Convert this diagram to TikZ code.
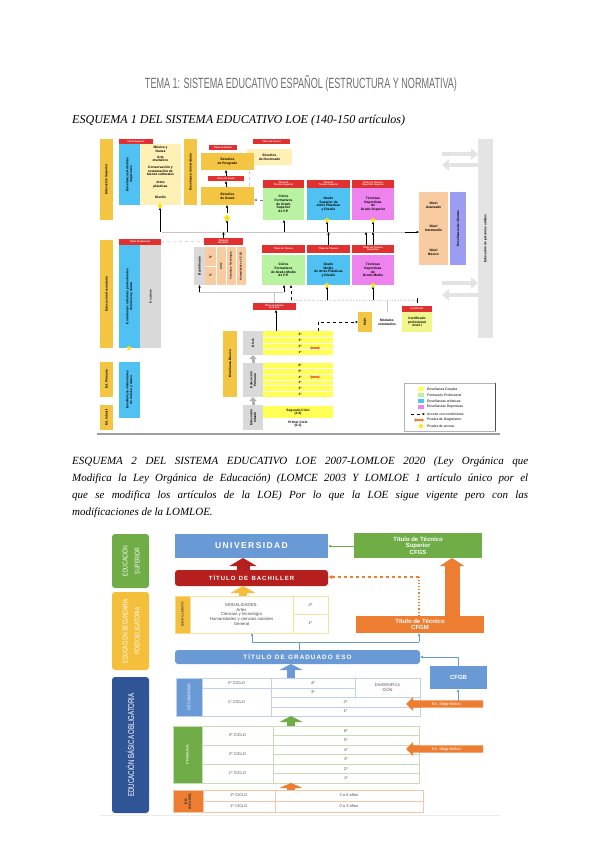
\documentclass[tikz,border=0pt]{standalone}
\usepackage{graphicx}
\usepackage{fontspec}
\setmainfont{Liberation Serif}
\newfontfamily\sansf{Liberation Sans}
\usetikzlibrary{shapes.geometric,shapes.arrows,arrows.meta}
\definecolor{titlegray}{HTML}{6F6F6F}
\definecolor{ybar}{HTML}{F4C542}
\definecolor{redl}{HTML}{E03030}
\definecolor{skyb}{HTML}{4FC1F2}
\definecolor{lyel}{HTML}{FFF1B5}
\definecolor{gry}{HTML}{D9D9D9}
\definecolor{lgreen}{HTML}{B9F2A1}
\definecolor{magen}{HTML}{EE82EE}
\definecolor{peach}{HTML}{F8CBA0}
\definecolor{lav}{HTML}{9C9CF2}
\definecolor{byel}{HTML}{FFFF55}
\definecolor{certy}{HTML}{F0F58C}
\definecolor{eblue}{HTML}{6A9AD6}
\definecolor{ered}{HTML}{B5201F}
\definecolor{egreen}{HTML}{70AD47}
\definecolor{eorange}{HTML}{ED7D31}
\definecolor{egold}{HTML}{F4C03C}
\definecolor{edblue}{HTML}{2F5597}
\newcommand\bx[7]{%
 \pgfmathsetmacro\bxw{#4-#2}\pgfmathsetmacro\bxh{#5-#3}%
 \node[anchor=north west,inner sep=0pt,outer sep=0pt,align=center,minimum width=\bxw pt,minimum height=\bxh pt,#6] (#1) at (#2,#3) {#7};}
\begin{document}
\begin{tikzpicture}[x=1pt,y=-1pt,
 fa/.style={font=\sansf\bfseries\fontsize{3.3}{3.7}\selectfont,align=center},
 lab/.style={fill=redl,text=white,font=\sansf\bfseries\fontsize{2.4}{2.7}\selectfont},
 rot/.style={rotate=90,inner sep=0pt,align=center},
 rf/.style={font=\sansf\bfseries\fontsize{3.2}{3.7}\selectfont},
 sarr/.style={-{Latex[length=2.5pt,width=2.5pt]},line width=0.6pt,black},
 gline/.style={line width=0.6pt,gray!45},
 acc/.style={dashed,line width=0.5pt,-{Latex[length=2.5pt,width=2.5pt]}},
 gbig/.style={line width=4pt,gray!22,-{Triangle[length=7pt,width=11pt]}},
 gup/.style={line width=3pt,gray!60,-{Triangle[length=4pt,width=7pt]}},
 starst/.style={star,star points=5,star point ratio=2.2,fill=yellow!85!orange,draw=none,minimum size=8pt,inner sep=0pt},
 num/.style={font=\sansf\bfseries\fontsize{3.2}{3.5}\selectfont,inner sep=0pt},
 legt/.style={anchor=west,inner sep=0pt,font=\sansf\fontsize{3.4}{3.6}\selectfont},
 wt/.style={text=white,font=\sansf\bfseries},
 bartxt/.style={rotate=90,inner sep=0pt,align=center,text=white,font=\sansf\fontsize{7}{8}\selectfont},
 cellb/.style={draw=eblue!45,fill=white,text=black!70,font=\sansf\fontsize{4}{4.6}\selectfont},
 cellg/.style={draw=egreen!40,fill=white,text=black!70,font=\sansf\fontsize{4}{4.6}\selectfont},
 cello/.style={draw=eorange!45,fill=white,text=black!70,font=\sansf\fontsize{4}{4.6}\selectfont},
 celly/.style={draw=egold!50,fill=white,text=black!70,font=\sansf\fontsize{4}{4.6}\selectfont},
 bl/.style={line width=1pt,eblue}]
\useasboundingbox[fill=white] (0,0) rectangle (600,848);

% ---------- headings ----------
\node[inner sep=0pt,text=titlegray] (title) at (301,84) {\resizebox{312pt}{13pt}{\sansf TEMA 1: SISTEMA EDUCATIVO ESPAÑOL (ESTRUCTURA Y NORMATIVA)}};
\node[anchor=west,inner sep=0pt] (h1) at (72,121) {\resizebox{333pt}{!}{\itshape ESQUEMA 1 DEL SISTEMA EDUCATIVO LOE (140-150 artículos)}};
\node[anchor=north west,inner sep=0pt,text width=456pt,align=justify,font=\itshape\fontsize{11}{17}\selectfont] (p2) at (72,457)
 {ESQUEMA 2 DEL SISTEMA EDUCATIVO LOE 2007-LOMLOE 2020 (Ley Orgánica que\linebreak Modifica la Ley Orgánica de Educación) (LOMCE 2003 Y LOMLOE 1 artículo único por el\linebreak que se modifica los artículos de la LOE) Por lo que la LOE sigue vigente pero con las\linebreak modificaciones de la LOMLOE.};

% ================= ESQUEMA 1 =================
\coordinate (h232) at (0,232);
\coordinate (h292) at (0,292);
\coordinate (h300) at (0,300);
% top left
\bx{supbar}{100}{139}{113}{220}{fill=ybar}{}
\node[rot,rf] (supbar-t) at (supbar) {Educación Superior};
\bx{lts}{119}{139}{153}{144}{lab}{Título Superior}
\bx{asup}{119}{144}{140}{205}{fill=skyb}{}
\node[rot,rf] (asup-t) at (asup) {Enseñanzas Artísticas\\Superiores};
\bx{alist}{140}{144}{181}{205}{fill=lyel}{}
\node[fa] (al1) at (160.5,149) {Música y\\Danza};
\node[fa] (al2) at (160.5,159) {Arte\\dramático};
\node[fa] (al3) at (160.5,171) {Conservación y\\restauración de\\bienes culturales};
\node[fa] (al4) at (160.5,185) {Artes\\plásticas};
\node[fa] (al5) at (160.5,197) {Diseño};
\node[starst,minimum size=6pt] (st0) at (160,206) {};
\bx{ubar}{184}{139}{197}{205}{fill=ybar}{}
\node[rot,rf] (ubar-t) at (ubar) {Enseñanza Universitaria};
\bx{doct}{247}{149}{292}{165}{fill=lyel,fa}{Estudios\\de Doctorado}
\bx{ldoc}{253}{139}{290}{144}{lab}{Título de Doctor}
\bx{posg}{201}{153}{254}{170}{fill=ybar,fa}{Estudios\\de Posgrado}
\bx{lmas}{209}{145}{237}{150}{lab}{Título de Máster}
\bx{lgra}{208}{176}{244}{181}{lab}{Título de Grado}
\bx{grado}{201}{187}{254}{205}{fill=ybar,fa}{Estudios\\de Grado}
\draw[sarr] (grado.north -| lgra.south) -- (lgra.south);
\draw[sarr] (lgra.north) -- (posg.south -| lgra.north);
\draw[gline,dashed] (doct.south -| 249,0) -- (grado.north -| 249,0);
\node[starst] (st1) at (227,218) {};
\draw[sarr] (st1.north) -- (grado.south -| st1.north);
% FP superior row
\bx{lts1}{263}{180}{304}{188}{lab}{Título de\\Técnico Superior}
\bx{fpgs}{263}{188}{304}{220}{fill=lgreen,fa}{Ciclos\\Formativos\\de Grado\\Superior\\de F.P.}
\bx{lts2}{307}{180}{350}{188}{lab}{Título de\\Técnico Superior}
\bx{apds}{307}{188}{350}{220}{fill=skyb,fa}{Grado\\Superior de\\Artes Plásticas\\y Diseño}
\bx{lts3}{352}{180}{394}{188}{lab}{Título de Técnico\\Deportivo Superior}
\bx{tds}{352}{188}{394}{220}{fill=magen,fa}{Técnicas\\Deportivas\\de\\Grado Superior}
\draw[acc,gray] (fpgs.west |- 0,200) -- (grado.east |- 0,200);
\node[starst,minimum size=6pt] (st2) at (327,220) {};
\node[starst,minimum size=6pt] (st3) at (373,220) {};
% idiomas & adultos
\bx{peach}{419}{192}{448}{265}{fill=peach}{}
\node[fa] (pe1) at (433.5,205) {Nivel\\Avanzado};
\node[fa] (pe2) at (433.5,228) {Nivel\\Intermedio};
\node[fa] (pe3) at (433.5,252) {Nivel\\Básico};
\bx{lav}{450}{192}{466}{265}{fill=lav}{}
\node[rot,rf] (lav-t) at (lav) {Enseñanzas de idiomas};
\bx{adult}{478}{139}{493}{338}{fill=gry!70}{}
\node[rot,rf] (adult-t) at (adult) {Educación de personas adultas};
\coordinate (ga1) at (442,154); \coordinate (ga2) at (442,165);
\coordinate (ga3) at (442,283); \coordinate (ga4) at (442,295);
\draw[gbig] (ga1) -- (adult.west |- ga1);
\draw[gbig] (adult.west |- ga2) -- (ga2);
\draw[gbig] (ga3) -- (adult.west |- ga3);
\draw[gbig] (adult.west |- ga4) -- (ga4);
% line 232
\draw[gline] (162,232) -- (peach.west |- h232);
\draw[sarr] (st0.south |- h232) -- (st0.south);
\draw[sarr] (st1.south |- h232) -- (st1.south);
\draw[sarr] (fpgs.south -| 284,0) ++(0,12) -- (fpgs.south -| 284,0);
\draw[sarr] (st2.south |- h232) -- (st2.south);
\draw[sarr] (st3.south |- h232) -- (st3.south);
\draw[sarr] (405,232) -- (peach.west |- h232);
% secondary level
\bx{secbar}{100}{240}{113}{348}{fill=ybar}{}
\node[rot,rf] (secbar-t) at (secbar) {Educación Secundaria};
\bx{lprof}{119}{239}{161}{245}{lab}{Título Profesional}
\bx{musprof}{119}{245}{140}{348}{fill=skyb}{}
\node[rot,rf] (musprof-t) at (musprof) {Enseñanzas artísticas profesionales\\de música y danza};
\bx{mgray}{140}{245}{161}{348}{fill=gry}{}
\node[rot,rf] (mgray-t) at (mgray) {6 cursos};
\node[starst,minimum size=6pt] (st4) at (129,348) {};
\bx{lbach}{204}{238}{243}{245}{lab}{Título de\\Bachiller}
\draw[gline,dashed] (lprof.east) -- (lbach.west);
\draw[sarr] (lbach.north) -- (lbach.north |- h232);
\bx{bachg}{194}{247}{205}{285}{fill=gry}{}
\node[rot,rf] (bachg-t) at (bachg) {Bachillerato};
\bx{bachp}{205}{247}{246}{285}{fill=peach}{}
\draw[white,line width=0.6pt] (216,247) -- (216,285) (226,247) -- (226,285) (236,247) -- (236,285) (205,266) -- (216,266);
\node[num] (b2) at (210.5,257) {2º};
\node[num] (b1) at (210.5,275) {1º};
\node[rot,font=\sansf\bfseries\fontsize{2.6}{3}\selectfont] (bm1) at (221,266) {Artes};
\node[rot,font=\sansf\bfseries\fontsize{2.6}{3}\selectfont] (bm2) at (231,266) {Ciencias y Tecnología};
\node[rot,font=\sansf\bfseries\fontsize{2.6}{3}\selectfont] (bm3) at (241,266) {Humanidades y CC.SS.};
\bx{ltec1}{262}{245}{305}{253}{lab}{Título de Técnico}
\bx{fpgm}{262}{255}{305}{285}{fill=lgreen,fa}{Ciclos\\Formativos\\de Grado Medio\\de F.P.}
\bx{ltec2}{307}{245}{350}{253}{lab}{Título de Técnico}
\bx{apdm}{307}{255}{350}{285}{fill=skyb,fa}{Grado\\Medio\\de Artes Plásticas\\y Diseño}
\bx{ltec3}{352}{245}{394}{253}{lab}{Título de Técnico\\Deportivo}
\bx{tdm}{352}{255}{394}{285}{fill=magen,fa}{Técnicas\\Deportivas\\de\\Grado Medio}
\node[starst,minimum size=6pt] (st5) at (327,285) {};
\node[starst,minimum size=6pt] (st6) at (373,285) {};
\draw[sarr] (ltec2.north) -- (ltec2.north |- h232);
\draw[sarr] (ltec3.north -| 366,0) -- (366,232);
\draw[sarr] (ltec3.north -| 373,0) -- (373,232);
% lines 292 / 300
\draw[gline] (199,292) -- (284,292);
\draw[sarr] (bachg.south |- h292) -- (bachg.south);
\draw[sarr] (fpgm.south -| 284,0) ++(0,7) -- (fpgm.south -| 284,0);
\draw[gline,dotted,line width=0.8pt] (291,300) -- (417,300);
\draw[acc] (291,300) -- (fpgm.south -| 291,0);
\draw[sarr] (st5.south |- h300) -- (st5.south);
\draw[sarr] (st6.south |- h300) -- (st6.south);
\draw[line width=0.8pt] (417,298) -- (417,303);
\bx{leso}{253}{303}{296}{310}{lab}{Título Graduado\\en E.S.O.}
\draw[gline] (leso.north) -- (leso.north |- h292);
% PCPI
\bx{pcpi}{358}{312}{372}{332}{fill=ybar}{}
\node[rot,rf] (pcpi-t) at (pcpi) {PCPI};
\bx{modv}{372}{312}{402}{332}{fill=white,fa}{Módulos\\voluntarios}
\draw[gline] (modv.north) -- (modv.north |- h300);
\bx{lcert}{402}{306}{432}{312}{lab}{Certificado}
\bx{cert}{402}{312}{432}{332}{fill=certy,fa}{Certificado\\profesional\\nivel I}
% obligatoria
\bx{oblbar}{223}{331}{237}{397}{fill=ybar}{}
\node[rot,rf] (oblbar-t) at (oblbar) {Enseñanza Básica};
\bx{esog}{243}{331}{263}{355}{fill=gry}{}
\node[rot,rf] (esog-t) at (esog) {E.S.O.};
\bx{esor}{263}{331}{333}{355}{fill=byel}{}
\draw[white,line width=0.5pt] (263,337) -- (333,337) (263,343) -- (333,343) (263,349) -- (333,349);
\node[num] (e4) at (300,334) {4º};
\node[num] (e3) at (300,340) {3º};
\node[num] (e2) at (300,346) {2º};
\node[num] (e1) at (300,352) {1º};
\draw[sarr] (esor.north -| 276,0) -- (leso.south -| 276,0);
\draw[acc] (318,331) -- (318,322) -- (pcpi.west |- 0,322);
\bx{prig}{243}{363}{263}{397}{fill=gry}{}
\node[rot,rf] (prig-t) at (prig) {Educación\\Primaria};
\bx{prir}{263}{363}{333}{397}{fill=byel}{}
\draw[white,line width=0.5pt] (263,368.7) -- (333,368.7) (263,374.3) -- (333,374.3) (263,380) -- (333,380) (263,385.7) -- (333,385.7) (263,391.3) -- (333,391.3);
\node[num] (p6) at (300,365.8) {6º};
\node[num] (p5) at (300,371.5) {5º};
\node[num] (p4) at (300,377.2) {4º};
\node[num] (p3) at (300,382.8) {3º};
\node[num] (p2n) at (300,388.5) {2º};
\node[num] (p1) at (300,394.2) {1º};
\bx{infg}{243}{405}{263}{430}{fill=gry}{}
\node[rot,rf] (infg-t) at (infg) {Educación\\Infantil};
\bx{inf2}{263}{406}{333}{418}{fill=byel,fa}{Segundo Ciclo\\(3-6)}
\bx{inf1}{263}{418}{333}{430}{fill=white,fa}{Primer Ciclo\\(0-3)}
\draw[gup] (prig.north) -- (esog.south);
\draw[gup] (infg.north) -- (prig.south);
\draw[eorange,line width=1.2pt,{Triangle[length=2pt,width=3.5pt]}-{Triangle[length=2pt,width=3.5pt]}] (310,348) -- (320,348);
\draw[eorange,line width=1.2pt,{Triangle[length=2pt,width=3.5pt]}-{Triangle[length=2pt,width=3.5pt]}] (310,377) -- (320,377);
% primaria / infantil left
\bx{pribar}{100}{362}{113}{397}{fill=ybar}{}
\node[rot,rf] (pribar-t) at (pribar) {Ed. Primaria};
\bx{musel}{119}{362}{140}{418}{fill=skyb}{}
\node[rot,rf] (musel-t) at (musel) {Enseñanzas elementales\\de música y danza};
\bx{infbar}{100}{405}{113}{430}{fill=ybar}{}
\node[rot,rf] (infbar-t) at (infbar) {Ed. Infantil};
% legend
\bx{leg}{404}{383}{495}{431}{fill=white,draw=gray!60}{}
\draw[black!70,line width=0.8pt] (leg.north east) -- (leg.south east);
\bx{lg1}{418}{387}{424}{391}{fill=byel}{}
\bx{lg2}{418}{393}{424}{397}{fill=lgreen}{}
\bx{lg3}{418}{399}{424}{403}{fill=skyb}{}
\bx{lg4}{418}{405}{424}{409}{fill=magen}{}
\coordinate (lg5a) at (411,414); \coordinate (lg5b) at (425,414);
\draw[acc] (lg5a) -- (lg5b);
\draw[eorange,line width=1.2pt,{Triangle[length=2pt,width=3.5pt]}-{Triangle[length=2pt,width=3.5pt]}] (414,420) -- (424,420);
\node[starst,minimum size=6pt] (lg7) at (421,426) {};
\node[legt] (lt1) at (427,389) {Enseñanza Gratuita};
\node[legt] (lt2) at (427,395) {Formación Profesional};
\node[legt] (lt3) at (427,401) {Enseñanzas artísticas};
\node[legt] (lt4) at (427,407) {Enseñanzas Deportivas};
\node[legt] (lt5) at (427,414) {Acceso con condiciones};
\node[legt] (lt6) at (427,420) {Prueba de Diagnóstico};
\node[legt] (lt7) at (427,426) {Prueba de acceso};
\draw[line width=2pt,gray!75] (97,434) -- (500,434);

% ================= ESQUEMA 2 =================
\bx{supb}{112}{534}{149}{588}{fill=egreen,rounded corners=3pt}{}
\node[bartxt] (supb-t) at (supb) {\scalebox{0.72}[1]{EDUCACIÓN}\\[4pt]\scalebox{0.72}[1]{SUPERIOR}};
\bx{postb}{112}{592}{149}{670}{fill=egold,rounded corners=3pt}{}
\node[bartxt] (postb-t) at (postb) {\scalebox{0.72}[1]{EDUCACIÓN SECUNDARIA}\\[4pt]\scalebox{0.72}[1]{POSTOBLIGATORIA}};
\bx{basb}{112}{677}{149}{813}{fill=edblue,rounded corners=3pt}{}
\node[bartxt,font=\sansf\fontsize{8.5}{9}\selectfont] (basb-t) at (basb) {\scalebox{0.72}[1]{EDUCACIÓN BÁSICA OBLIGATORIA}};

\bx{univ}{175}{534}{328}{558}{fill=eblue,wt,font=\sansf\bfseries\fontsize{8.5}{9}\selectfont}{U\,N\,I\,V\,E\,R\,S\,I\,D\,A\,D}
\bx{bach}{175}{570}{328}{586}{fill=ered,rounded corners=3pt,wt,font=\sansf\bfseries\fontsize{6}{7}\selectfont}{T\,Í\,T\,U\,L\,O\ \ D\,E\ \ B\,A\,C\,H\,I\,L\,L\,E\,R}
\bx{cfgs}{354}{533}{482}{558}{fill=egreen,wt,font=\sansf\bfseries\fontsize{6}{6.6}\selectfont}{Título de Técnico\\Superior\\CFGS}
\bx{cfgm}{356}{616}{484}{633}{fill=eorange,wt,font=\sansf\bfseries\fontsize{6}{6.6}\selectfont}{Título de Técnico\\CFGM}
% bachillerato table
\bx{btl}{175}{596}{190}{633}{fill=egold,draw=egold!60}{}
\node[rot,text=black!70,font=\sansf\bfseries\fontsize{3.2}{3.5}\selectfont] (btl-t) at (btl) {BACHILLERATO};
\bx{bmod}{190}{596}{293}{633}{celly,font=\sansf\fontsize{4.3}{4.8}\selectfont}{MODALIDADES:\\Artes\\Ciencias y tecnología\\Humanidades y ciencias sociales\\General}
\bx{bc2}{293}{596}{328}{614}{celly}{2º}
\bx{bc1}{293}{614}{328}{633}{celly}{1º}
% ESO title
\bx{esot}{175}{650}{420}{664}{fill=eblue,rounded corners=3pt,wt,font=\sansf\bfseries\fontsize{6.3}{7}\selectfont}{T\,Í\,T\,U\,L\,O\ \ D\,E\ \ G\,R\,A\,D\,U\,A\,D\,O\ \ E\,S\,O}
\bx{cfgb}{430}{666}{487}{689}{fill=eblue,wt,font=\sansf\bfseries\fontsize{6}{7}\selectfont}{CFGB}
% ESO table
\bx{esol}{176}{678}{202}{716}{fill=eblue,draw=eblue!45}{}
\node[rot,text=white,font=\sansf\fontsize{4}{4.5}\selectfont] (esol-t) at (esol) {SECUNDARIA};
\bx{ec2}{202}{678}{271}{688}{cellb}{2º CICLO}
\bx{ec1}{202}{688}{271}{716}{cellb}{1º CICLO}
\bx{er4}{271}{678}{355}{688}{cellb}{4º}
\bx{er3}{271}{688}{355}{697}{cellb}{3º}
\bx{ediv}{355}{678}{420}{697}{cellb}{DIVERSIFICA\\CIÓN}
\bx{er2}{271}{697}{420}{707}{cellb}{2º}
\bx{er1}{271}{707}{420}{716}{cellb}{1º}
% primaria table
\bx{pril}{173}{726}{202}{783}{fill=egreen,draw=egreen!40}{}
\node[rot,text=white,font=\sansf\fontsize{4}{4.5}\selectfont] (pril-t) at (pril) {PRIMARIA};
\bx{pc3}{202}{726}{273}{745}{cellg}{3º CICLO}
\bx{pc2}{202}{745}{273}{764}{cellg}{2º CICLO}
\bx{pc1}{202}{764}{273}{783}{cellg}{1º CICLO}
\bx{pr6}{273}{726}{419}{735.5}{cellg}{6º}
\bx{pr5}{273}{735.5}{419}{745}{cellg}{5º}
\bx{pr4}{273}{745}{419}{754.5}{cellg}{4º}
\bx{pr3}{273}{754.5}{419}{764}{cellg}{3º}
\bx{pr2}{273}{764}{419}{773.5}{cellg}{2º}
\bx{pr1}{273}{773.5}{419}{783}{cellg}{1º}
% infantil table
\bx{infl}{173}{790}{203}{812}{fill=eorange,draw=eorange!45}{}
\node[rot,text=black!80,font=\sansf\bfseries\fontsize{3.6}{4}\selectfont] (infl-t) at (infl) {ED.\\INFANTIL};
\bx{ic2}{203}{790}{275}{801}{cello}{2º CICLO}
\bx{ic1}{203}{801}{275}{812}{cello}{1º CICLO}
\bx{ia2}{275}{790}{423}{801}{cello}{3 a 6 años}
\bx{ia1}{275}{801}{423}{812}{cello}{0 a 3 años}
% connectors esquema 2
\coordinate (ax1) at (243,0);
\coordinate (ax2) at (291,0);
\coordinate (ax3) at (452,0);
\draw[line width=13pt,ered,-{Triangle[length=8pt,width=27pt]}] (bach.north -| ax1) -- (univ.south -| ax1);
\draw[line width=8pt,egold,-{Triangle[length=7pt,width=25pt]}] (bmod.north -| ax1) -- (bach.south -| ax1);
\draw[line width=8pt,eblue,-{Triangle[length=6pt,width=23pt]}] (er4.north -| ax2) -- (esot.south -| ax2);
\draw[line width=8pt,egreen,-{Triangle[length=6pt,width=23pt]}] (pr6.north -| ax2) -- (er1.south -| ax2);
\draw[line width=8pt,eorange,-{Triangle[length=5pt,width=23pt]}] (ia2.north -| ax2) -- (pr1.south -| ax2);
\draw[line width=15pt,eorange,-{Triangle[length=8pt,width=24pt]}] (cfgm.north -| ax3) -- (cfgs.south -| ax3);
\draw[egreen,line width=0.8pt,-{Latex[length=3pt,width=3pt]}] (cfgs.west |- 0,546) -- (univ.east |- 0,546);
\draw[eorange,line width=1.2pt,dotted] (cfgm.north -| 419,0) -- (419,577);
\draw[eorange,line width=1.2pt,dashed,-{Latex[length=4pt,width=4pt]}] (419,577) -- (bach.east |- 0,577);
\coordinate (bj) at (299,642);
\draw[bl] (esot.north -| bj) -- (bj);
\draw[bl] (252,642) -- (419,642);
\draw[bl,-{Latex[length=3pt,width=3pt]}] (252,642) -- (bc1.south -| 252,0);
\draw[bl,-{Latex[length=3pt,width=3pt]}] (419,642) -- (cfgm.south -| 419,0);
\draw[bl,-{Latex[length=3pt,width=3pt]}] (cfgb.north -| 458,0) -- (458,657) -- (esot.east |- 0,657);
\draw[bl,-{Latex[length=3pt,width=3pt]}] (er2.east) -- (er2.east -| 458,0) -- (cfgb.south -| 458,0);
\node[single arrow,shape border rotate=180,fill=eorange,minimum height=77pt,minimum width=14pt,single arrow head extend=3pt,inner sep=1pt,text=white,font=\sansf\fontsize{4.2}{4.4}\selectfont] (ev1) at (446.5,704) {Ev. diagnóstico};
\node[single arrow,shape border rotate=180,fill=eorange,minimum height=77pt,minimum width=14pt,single arrow head extend=3pt,inner sep=1pt,text=white,font=\sansf\fontsize{4.2}{4.4}\selectfont] (ev2) at (446.5,749) {Ev. diagnóstico};
\draw[gray!15,line width=1pt] (100,815) -- (500,815);
\end{tikzpicture}
\end{document}
